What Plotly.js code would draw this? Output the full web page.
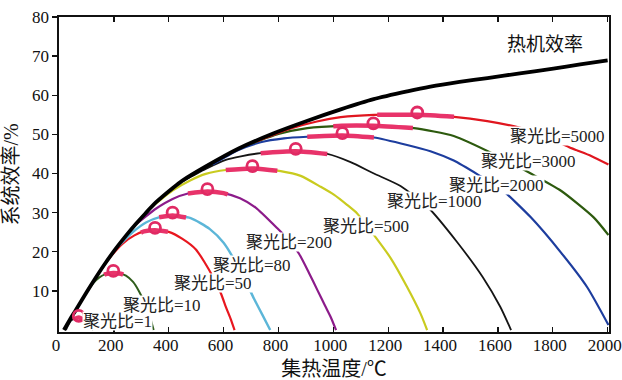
<!DOCTYPE html>
<html><head><meta charset="utf-8">
<script src="https://cdn.plot.ly/plotly-3.0.1.min.js"></script>
<style>html,body{margin:0;padding:0;background:#fff;}#chart{width:622px;height:380px;}</style>
</head><body><div id="chart"></div>
<script>
// ---- data ----
const ratios = [1, 10, 50, 80, 200, 500, 1000, 2000, 3000, 5000];
const xTicks = [0, 200, 400, 600, 800, 1000, 1200, 1400, 1600, 1800, 2000];
const yTicks = [10, 20, 30, 40, 50, 60, 70, 80];
const carnotLabel = '热机效率';

const carnotT = [18, 40, 62, 100, 135, 170, 207, 245, 280, 315, 353, 415, 450, 535, 655, 783, 906, 1027, 1147, 1270, 1354, 1460, 1562, 1680, 1802, 1900, 2000];
const carnotEta = [0, 2.7, 5.2, 9.6, 13.5, 17.2, 20.8, 24.2, 27.1, 29.8, 32.6, 36.3, 38.2, 41.8, 46.4, 50.3, 53.5, 56.4, 59.0, 61.0, 62.2, 63.4, 64.4, 65.6, 66.8, 67.9, 68.9];

const t1 = [25, 45, 72, 100, 125];
const e1 = [0, 2.5, 3.2, 2.2, 0];
const t10 = [100, 125, 146, 170, 198, 225, 244, 270, 291, 310, 328, 345];
const e10 = [9.6, 12.0, 13.4, 14.3, 14.6, 14.4, 13.9, 12.3, 10.0, 7.3, 4.3, 0];
const t50 = [150, 190, 232, 275, 310, 350, 400, 450, 499, 530, 561, 590, 610, 625, 640];
const e50 = [15.1, 18.9, 22.1, 24.2, 25.2, 25.5, 25.1, 23.3, 20.6, 17.4, 13.6, 9.4, 5.6, 3.0, 0];
const t80 = [210, 268, 317, 364, 414, 480, 550, 600, 663, 711, 742, 770];
const e80 = [21.0, 25.0, 27.5, 28.8, 29.3, 28.6, 25.8, 22.3, 14.9, 8.0, 3.8, 0];
const t200 = [280, 353, 414, 470, 541, 600, 660, 717, 796, 840, 875, 910, 942, 970, 990, 1010];
const e200 = [27.0, 31.0, 33.5, 34.9, 35.4, 35.0, 33.7, 31.3, 26.0, 22.8, 19.5, 14.8, 10.2, 6.2, 3.4, 0];
const t500 = [300, 330, 415, 480, 535, 608, 705, 808, 881, 954, 1002, 1050, 1087, 1136, 1209, 1269, 1318, 1342];
const e500 = [28.8, 31.0, 35.7, 38.3, 39.9, 40.9, 41.3, 40.6, 39.4, 36.6, 34.6, 32.0, 29.8, 25.4, 18.4, 11.0, 4.2, 0];
const t1000 = [450, 535, 608, 663, 735, 863, 978, 1063, 1148, 1245, 1350, 1451, 1545, 1609, 1648];
const e1000 = [38.0, 41.2, 43.5, 44.4, 45.2, 45.7, 45.0, 42.9, 40.0, 36.8, 31.0, 22.5, 13.5, 5.9, 0];
const t2000 = [560, 650, 735, 820, 905, 1033, 1148, 1269, 1354, 1439, 1530, 1612, 1720, 1830, 1925, 2003];
const e2000 = [42.3, 45.9, 48.0, 49.0, 49.4, 49.7, 49.2, 47.3, 45.7, 43.3, 39.6, 36.0, 28.8, 19.8, 11.0, 1.3];
const t3000 = [700, 800, 905, 1030, 1146, 1294, 1439, 1590, 1725, 1830, 1949, 2003];
const e3000 = [47.6, 50.1, 51.6, 52.2, 52.2, 51.6, 49.6, 44.8, 39.8, 35.6, 28.8, 24.3];
const t5000 = [720, 845, 940, 1027, 1148, 1306, 1440, 1561, 1682, 1780, 1858, 1940, 2003];
const e5000 = [48.2, 51.5, 53.3, 54.4, 55.0, 55.0, 54.5, 53.4, 51.7, 49.5, 46.8, 44.5, 42.3];

// optimum points (circle markers) and highlighted ranges
const peakT = [72, 198, 350, 414, 541, 705, 863, 1033, 1146, 1306];
const peakEta = [3.6, 15.1, 26.1, 30.0, 36.0, 41.9, 46.3, 50.3, 52.8, 55.6];
const bandLo = [55, 165, 299, 365, 470, 608, 735, 905, 1000, 1160];
const bandHi = [91, 234, 397, 463, 615, 796, 978, 1148, 1290, 1440];

// ---- styles ----
const curveT = [t1, t10, t50, t80, t200, t500, t1000, t2000, t3000, t5000];
const curveE = [e1, e10, e50, e80, e200, e500, e1000, e2000, e3000, e5000];
const colors = ['#1a1a1a', '#2f5d1c', '#e8171f', '#5cb6d8', '#8c1b8a', '#c9cb1f', '#151515', '#1d3d9e', '#2d5a0e', '#e0161f'];
const widths = [1.8, 2, 2.2, 2.4, 2.2, 2.2, 1.8, 2.2, 2.2, 2.2];
const FONT = 'Liberation Serif, "Noto Sans CJK SC", serif';
const bandColor = '#e8336a';
const markColor = '#e02a64';

function interp(xs, ys, x) {
  if (x <= xs[0]) return ys[0];
  for (let i = 1; i < xs.length; i++) {
    if (x <= xs[i]) {
      const f = (x - xs[i - 1]) / (xs[i] - xs[i - 1]);
      return ys[i - 1] + f * (ys[i] - ys[i - 1]);
    }
  }
  return ys[ys.length - 1];
}

const traces = [];
ratios.forEach((r, i) => {
  traces.push({x: curveT[i], y: curveE[i], mode: 'lines', hoverinfo: 'skip',
    line: {color: colors[i], width: widths[i], shape: 'spline', smoothing: 0.6}});
});
traces.push({x: carnotT, y: carnotEta, mode: 'lines', hoverinfo: 'skip',
  line: {color: '#000', width: 3.8, shape: 'spline', smoothing: 0.8}});
ratios.forEach((r, i) => {
  const xs = curveT[i], ys = curveE[i];
  const bx = [bandLo[i]], by = [interp(xs, ys, bandLo[i])];
  xs.forEach((x, k) => { if (x > bandLo[i] && x < bandHi[i]) { bx.push(x); by.push(ys[k]); } });
  bx.push(bandHi[i]); by.push(interp(xs, ys, bandHi[i]));
  traces.push({x: bx, y: by, mode: 'lines', hoverinfo: 'skip',
    line: {color: bandColor, width: 4.5, shape: 'spline', smoothing: 0.6}});
});
traces.push({x: peakT, y: peakEta, mode: 'markers', hoverinfo: 'skip',
  marker: {symbol: 'circle-open', size: 11, color: markColor, line: {width: 2.8}}});

// label placement (left edge x, centre y in data units)
const labelPos = [[84, 2.44], [230, 6.4], [416, 12.15], [558, 16.75], [678, 22.4], [959, 26.6], [1192, 33.1], [1418, 37.1], [1535, 43.2], [1640, 49.7]];
const annotations = ratios.map((r, i) => ({
  x: labelPos[i][0], y: labelPos[i][1], xref: 'x', yref: 'y', xanchor: 'left', yanchor: 'middle',
  text: '聚光比=' + r, showarrow: false, bgcolor: '#fff', borderpad: 0, height: 18,
  font: {family: FONT, size: 17, color: '#222'}
}));
annotations.push({x: 1626, y: 73.1, xref: 'x', yref: 'y', xanchor: 'left', yanchor: 'middle',
  text: carnotLabel, showarrow: false, font: {family: FONT, size: 19, color: '#111'}});

const layout = {
  width: 622, height: 380,
  margin: {l: 59, r: 13, t: 17, b: 48},
  paper_bgcolor: '#fff', plot_bgcolor: '#fff',
  showlegend: false,
  xaxis: {
    range: [0, 2005], tickvals: xTicks, ticktext: xTicks.map(String),
    ticks: 'inside', ticklen: 5, tickwidth: 1.3, tickcolor: '#111',
    showline: true, linewidth: 1.6, linecolor: '#111', mirror: 'ticks',
    showgrid: false, zeroline: false, ticklabelshift: -3, ticklabelstandoff: -3, ticklabeloverflow: 'allow',
    tickfont: {family: FONT, size: 17, color: '#111'},
    title: {text: '集热温度/℃', font: {family: FONT, size: 20, color: '#111'}, standoff: 8}
  },
  yaxis: {
    range: [-0.5, 80], tickvals: yTicks, ticktext: yTicks.map(String),
    ticks: 'outside', ticklen: 5, tickwidth: 1.3, tickcolor: '#111',
    showline: true, linewidth: 1.6, linecolor: '#111', mirror: true,
    showgrid: false, zeroline: false,
    tickfont: {family: FONT, size: 17, color: '#111'},
    title: {text: '系统效率/%', font: {family: FONT, size: 20, color: '#111'}, standoff: 8}
  },
  annotations: annotations
};

Plotly.newPlot('chart', traces, layout, {staticPlot: true, displayModeBar: false});
</script>
</body></html>
